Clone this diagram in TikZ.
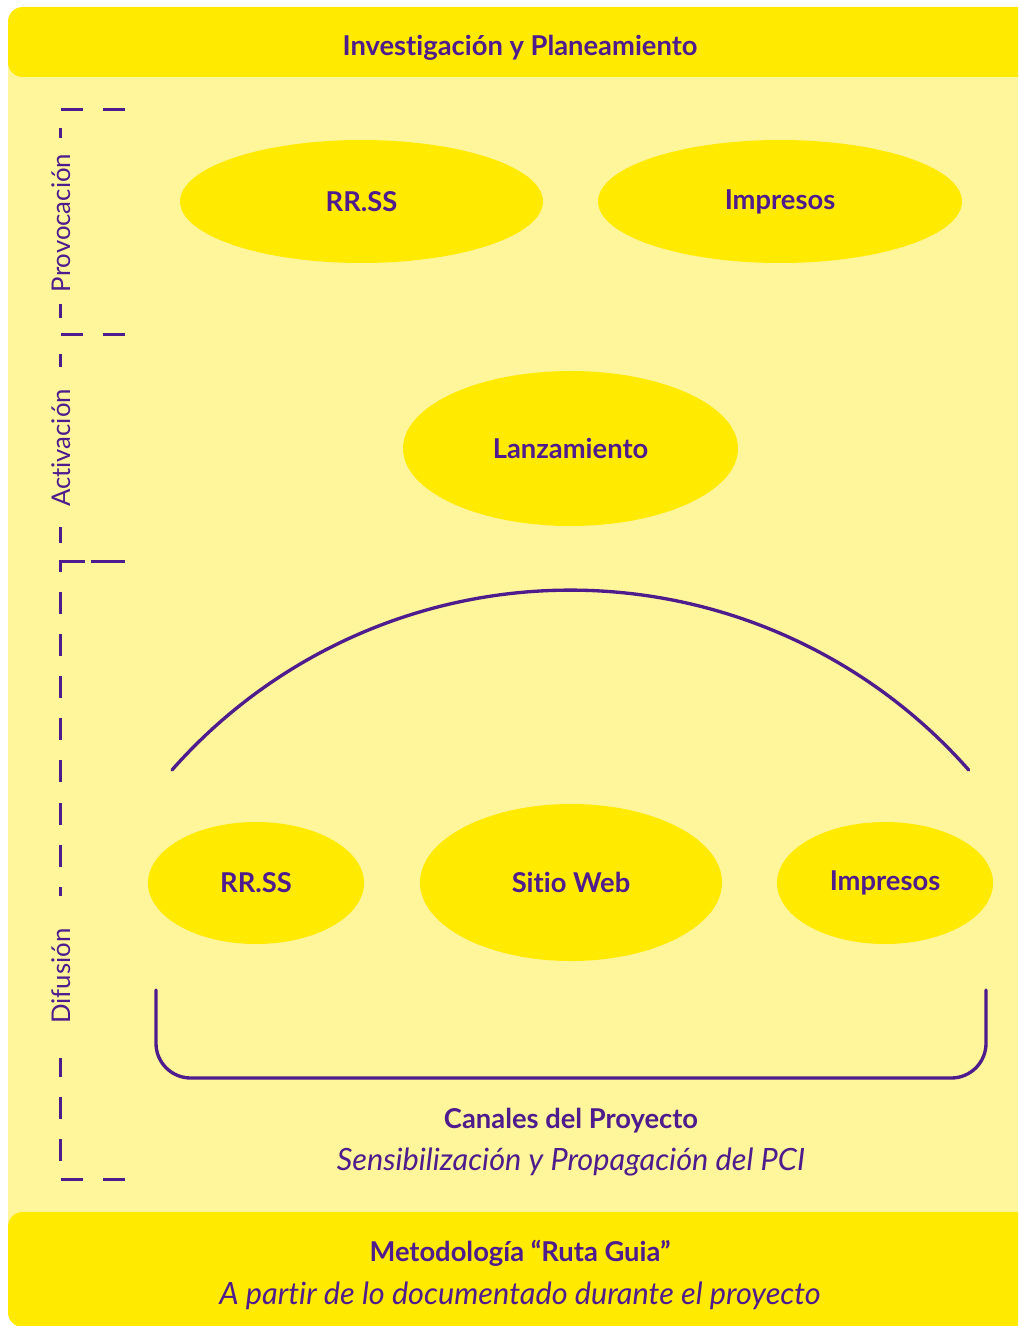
\documentclass[tikz,border=0pt]{standalone}
\usepackage{fontspec}
\setmainfont[Ligatures=NoCommon]{Lato}
\usetikzlibrary{shapes.geometric}

\definecolor{paleyellow}{HTML}{FFF59B}
\definecolor{brightyellow}{HTML}{FFEA00}
\definecolor{deeppurple}{HTML}{4E1C8C}

\tikzset{
  bubble/.style={ellipse, fill=brightyellow, inner sep=0pt, text=deeppurple,
    font=\fontsize{20.5}{24}\selectfont\bfseries},
  headtext/.style={text=deeppurple, font=\fontsize{20.5}{24}\selectfont\bfseries},
  subtext/.style={text=deeppurple, font=\fontsize{23}{27}\selectfont\itshape},
  phasetext/.style={text=deeppurple, rotate=90, font=\fontsize{19.3}{23}\selectfont},
  guide/.style={draw=deeppurple, line width=2.25pt},
  bracketline/.style={draw=deeppurple, line width=2.5pt, line cap=round}
}

\begin{document}
\begin{tikzpicture}[x=0.75pt, y=0.75pt]
  \useasboundingbox (0,0) rectangle (1018,-1326);
  \fill[white] (0,0) rectangle (1018,-1326);
  \clip (0,0) rectangle (1018,-1326);

  % page panel and the two banners
  \fill[paleyellow] (8,-40) rectangle (1018,-1300);
  \fill[brightyellow, rounded corners=11pt] (8,-7) rectangle (1045,-77);
  \fill[brightyellow, rounded corners=11pt] (8,-1212) rectangle (1045,-1327);

  \node[headtext] (top) at (520,-48) {Investigación y Planeamiento};

  % phase guide on the left
  \foreach \ya/\yb in {128/138, 304/318, 354/367, 527/543, 592/614, 634/656,
                       676/698, 718/740, 760/782, 803/825, 845/867, 887/896,
                       1058/1077, 1097/1119, 1139/1161}
    \draw[guide] (60,-\ya) -- (60,-\yb);
  \foreach \yy in {110, 335, 1179} {
    \draw[guide] (61,-\yy) -- (83,-\yy);
    \draw[guide] (103,-\yy) -- (125,-\yy);
  }
  \draw[guide] (60,-572) -- (60,-561) -- (85,-561);
  \draw[guide] (91,-561) -- (125,-561);

  \node[phasetext] (prov) at (61,-223) {Provocación};
  \node[phasetext] (act) at (61,-448) {Activación};
  \node[phasetext] (dif) at (61,-976) {Difusión};

  % provocation
  \node[bubble, minimum width=272.25pt, minimum height=92.25pt] (rrss1) at (361.5,-201.5) {RR.SS};
  \node[bubble, minimum width=273pt, minimum height=92.25pt] (imp1) at (780,-201.5) {Impresos};

  % activation
  \node[bubble, minimum width=251.25pt, minimum height=116.25pt] (lanz) at (570.5,-448.5) {Lanzamiento};

  % diffusion
  \draw[bracketline] (172,-770) arc[start angle=138.6, end angle=41.4, radius=531.1];
  \node[bubble, minimum width=162pt, minimum height=91.5pt] (rrss2) at (256,-883) {RR.SS};
  \node[bubble, minimum width=226.5pt, minimum height=117.75pt] (web) at (571,-882.5) {Sitio Web};
  \node[bubble, minimum width=162pt, minimum height=91.5pt] (imp2) at (885,-883) {Impresos};

  \draw[bracketline, rounded corners=26pt] (156,-990) -- (156,-1078) -- (986,-1078) -- (986,-990);

  \node[headtext] (canales) at (571,-1121) {Canales del Proyecto};
  \node[subtext] (sens) at (571,-1162) {Sensibilización y Propagación del PCI};

  % methodology banner
  \node[headtext] (met) at (520,-1253) {Metodología “Ruta Guia”};
  \node[subtext] (apartir) at (520,-1296) {A partir de lo documentado durante el proyecto};
\end{tikzpicture}
\end{document}
